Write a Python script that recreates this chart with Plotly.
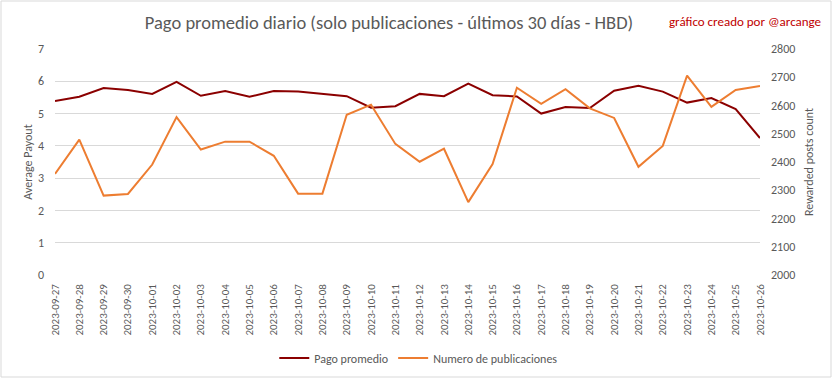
import plotly.graph_objects as go

dates = ["2023-09-27", "2023-09-28", "2023-09-29", "2023-09-30", "2023-10-01", "2023-10-02",
         "2023-10-03", "2023-10-04", "2023-10-05", "2023-10-06", "2023-10-07", "2023-10-08",
         "2023-10-09", "2023-10-10", "2023-10-11", "2023-10-12", "2023-10-13", "2023-10-14",
         "2023-10-15", "2023-10-16", "2023-10-17", "2023-10-18", "2023-10-19", "2023-10-20",
         "2023-10-21", "2023-10-22", "2023-10-23", "2023-10-24", "2023-10-25", "2023-10-26"]

pago_promedio = [5.39, 5.52, 5.79, 5.73, 5.61, 5.98, 5.55, 5.70, 5.52, 5.70,
                 5.68, 5.62, 5.54, 5.18, 5.23, 5.61, 5.54, 5.93, 5.57, 5.53,
                 5.00, 5.20, 5.17, 5.71, 5.86, 5.68, 5.34, 5.48, 5.14, 4.24]

numero_publicaciones = [2358, 2479, 2281, 2287, 2391, 2559, 2444, 2472, 2472, 2422,
                        2288, 2288, 2567, 2603, 2464, 2401, 2447, 2258, 2393, 2663,
                        2606, 2658, 2590, 2556, 2383, 2457, 2706, 2595, 2655, 2669]

FONT = "Carlito, Calibri, Lato, sans-serif"
GREY = "#595959"

fig = go.Figure()
fig.add_trace(go.Scatter(x=dates, y=pago_promedio, name="Pago promedio", mode="lines",
                         line=dict(color="#8B0000", width=2), yaxis="y"))
fig.add_trace(go.Scatter(x=dates, y=numero_publicaciones, name="Numero de publicaciones", mode="lines",
                         line=dict(color="#ED7D31", width=2), yaxis="y2"))

fig.update_layout(
    width=833, height=379,
    margin=dict(l=55, r=73, t=49, b=104, autoexpand=False),
    paper_bgcolor="white", plot_bgcolor="white",
    font=dict(family=FONT, color=GREY, size=11),
    title=dict(text="Pago promedio diario (solo publicaciones - últimos 30 días - HBD)",
               x=0.467, xanchor="center", y=1 - 23 / 379, yanchor="middle",
               font=dict(family=FONT, size=18.5, color=GREY)),
    xaxis=dict(type="category", tickangle=-90, showgrid=False, showline=False, automargin=False,
               ticklabelstandoff=6, tickfont=dict(size=11, color=GREY), zeroline=False),
    yaxis=dict(range=[0, 7], dtick=1, showgrid=True, gridcolor="#d9d9d9", gridwidth=1,
               zeroline=False, showline=False, ticklabelstandoff=10, automargin=False,
               tickfont=dict(size=12, color=GREY),
               title=dict(text="Average Payout", font=dict(size=12, color=GREY), standoff=2)),
    yaxis2=dict(range=[2000, 2800], dtick=100, overlaying="y", side="right", showgrid=False,
                zeroline=False, showline=False, ticklabelstandoff=10, automargin=False,
                tickfont=dict(size=12, color=GREY),
                title=dict(text="Rewarded posts count", font=dict(size=12, color=GREY), standoff=10)),
    legend=dict(orientation="h", x=0.516, xanchor="center", y=-0.367, yanchor="middle",
                font=dict(size=12, color=GREY), itemwidth=30, bgcolor="rgba(0,0,0,0)"),
    showlegend=True,
)

fig.add_annotation(text="gráfico creado por @arcange", xref="paper", yref="paper",
                   x=(823 - 55) / 705, y=(275 - 22) / 226, xanchor="right", yanchor="middle",
                   showarrow=False, font=dict(family=FONT, size=13, color="#C00000"))

fig.add_shape(type="rect", xref="paper", yref="paper",
              x0=(1 - 55) / 705, x1=(831 - 55) / 705, y0=(275 - 377) / 226, y1=(275 - 1) / 226,
              line=dict(color="#d9d9d9", width=1), fillcolor="rgba(0,0,0,0)", layer="below")

fig.write_html("out.html", config={"displayModeBar": False},
               post_script="document.body.style.margin='0';document.body.style.overflow='hidden';")
